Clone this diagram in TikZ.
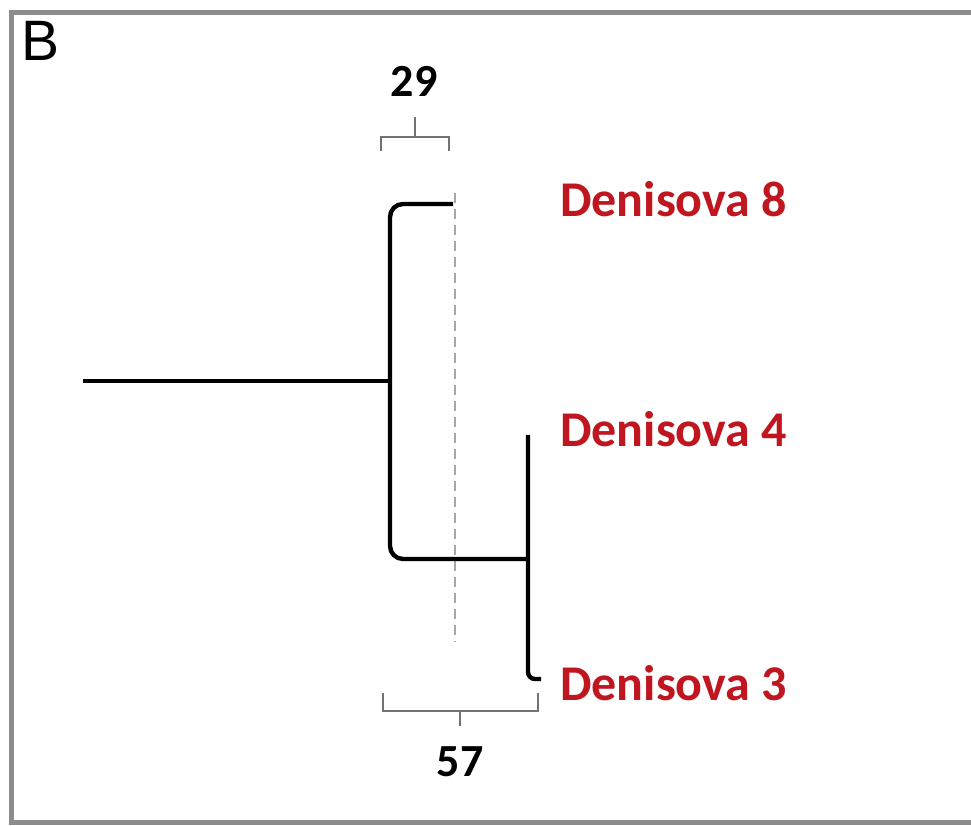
\documentclass[tikz,border=0pt]{standalone}
\usepackage{fontspec}
\setmainfont{Carlito}
\newfontfamily\panelfont{Liberation Sans}
\definecolor{denired}{RGB}{192,22,32}

\begin{document}
\begin{tikzpicture}[x=1pt,y=-1pt,
	ast/.style={line width=4.4pt},
	klammer/.style={line width=2.4pt, black!55},
	taxon/.style={anchor=west, inner sep=0pt, text=denired, font=\fontsize{50}{60}\selectfont\bfseries},
	zahl/.style={inner sep=0pt, font=\fontsize{46}{55}\selectfont\bfseries}]
	\useasboundingbox (0,0) rectangle (971,825);
	
	% Rahmen
	\draw[line width=5pt, black!45] (1000,12) -- (11,12) -- (11,822) -- (1000,822);
	\node[inner sep=0pt, font=\panelfont\fontsize{57}{60}\selectfont] (panel) at (41,41) {B};
	
	% Knoten des Baums
	\coordinate (wurzel) at (83,381);
	\coordinate (k1) at (390,381);
	\coordinate (k2) at (528,559);
	\coordinate (d8) at (453,204);
	\coordinate (d4) at (528,435);
	\coordinate (d3) at (541,679);
	
	% Beschriftung der Blätter
	\node[taxon] (den8) at (560,199) {Denisova 8};
	\node[taxon] (den4) at (560,429) {Denisova 4};
	\node[taxon] (den3) at (560,683) {Denisova 3};
	
	% Gestrichelte Linie
	\draw[black!35, line width=2.4pt, dash pattern=on 10pt off 6pt] (455,193) -- (455,642);
	
	% Äste
	\draw[ast] (wurzel) -- (k1);
	\draw[ast, rounded corners=13pt] (d8) -| (k1) |- (k2);
	\draw[ast, rounded corners=7pt] (d4) |- (d3);
	
	% Klammer oben (29)
	\draw[klammer] (381,151) -- (381,137) -- (449,137) -- (449,151);
	\draw[klammer] (415,137) -- (415,117);
	\node[zahl] (n29) at (414,81) {29};
	
	% Klammer unten (57)
	\draw[klammer] (383,693) -- (383,711) -- (538,711) -- (538,693);
	\draw[klammer] (460,711) -- (460,726);
	\node[zahl] (n57) at (460,762) {57};
	
\end{tikzpicture}
\end{document}
